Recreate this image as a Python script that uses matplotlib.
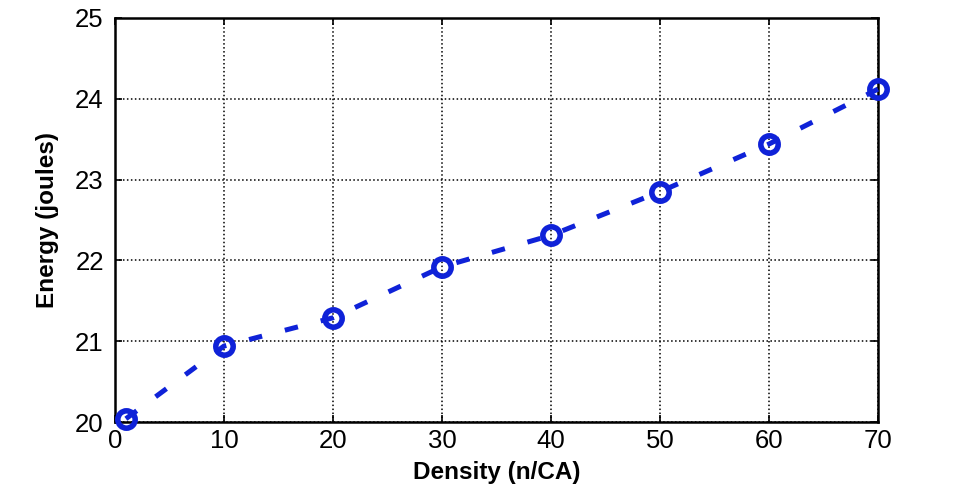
import matplotlib
matplotlib.use("Agg")
import matplotlib.pyplot as plt

# values
density = [1, 10, 20, 30, 40, 50, 60, 70]
energy = [20.04, 20.94, 21.29, 21.92, 22.31, 22.85, 23.44, 24.12]
x_ticks = [0, 10, 20, 30, 40, 50, 60, 70]
y_ticks = [20, 21, 22, 23, 24, 25]

plt.rcParams["font.family"] = ["Liberation Sans", "DejaVu Sans"]

fig = plt.figure(figsize=(9.63, 4.98), dpi=100)
ax = fig.add_axes([0.1194, 0.1526, 0.7923, 0.8113])

line, = ax.plot(density, energy, color="#0f22d8", linewidth=3.6,
                linestyle="--", dash_capstyle="butt",
                marker="o", markersize=12.5, markeredgewidth=4.0,
                markerfacecolor="none", markeredgecolor="#0f22d8",
                clip_on=False, zorder=3)
line.set_dashes((2.7, 4.7))

ax.set_xlim(0, 70)
ax.set_ylim(20, 25)
ax.set_xticks(x_ticks)
ax.set_yticks(y_ticks)
ax.grid(True, color="black", linestyle=(0, (1, 1.6)), linewidth=1.1)

for spine in ax.spines.values():
    spine.set_linewidth(1.8)
ax.tick_params(direction="in", length=5, width=1.2, top=True, right=True,
               labelsize=18.5)
ax.tick_params(axis="y", pad=8)
ax.tick_params(axis="x", pad=5)

ax.set_xlabel("Density (n/CA)", fontsize=17.5, fontweight="bold", labelpad=6)
ax.set_ylabel("Energy (joules)", fontsize=17.5, fontweight="bold", labelpad=12)

fig.savefig("out.png", dpi=100)
